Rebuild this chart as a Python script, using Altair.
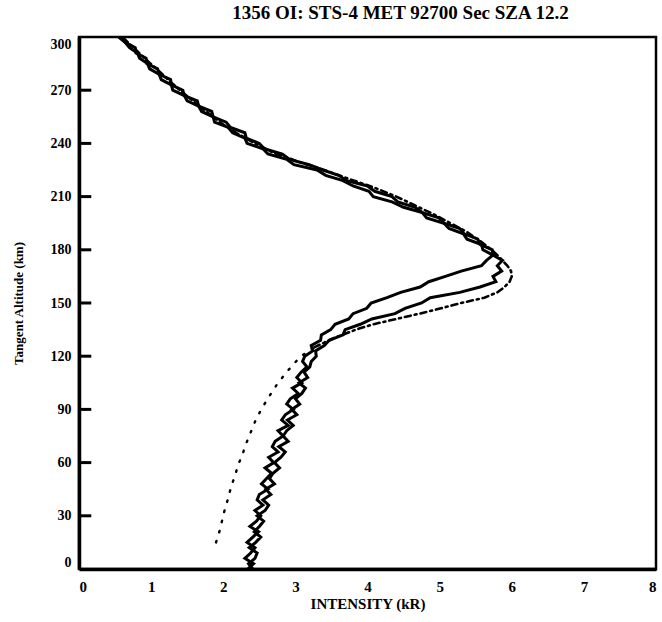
import altair as alt
import pandas as pd

# Tangent altitude grid (km) for the two measured limb profiles
altitude_km = list(range(0, 301, 3))

# Measured 1356 OI intensity (kR), two profiles
profile_a = [
    2.34, 2.42, 2.30, 2.38, 2.44, 2.33, 2.41, 2.49, 2.37, 2.46,
    2.52, 2.44, 2.55, 2.47, 2.50, 2.62, 2.53, 2.60, 2.67, 2.58,
    2.70, 2.63, 2.76, 2.68, 2.72, 2.83, 2.76, 2.90, 2.81, 2.86,
    2.97, 2.88, 2.93, 3.04, 2.96, 3.09, 3.02, 3.08, 3.16, 3.10,
    3.13, 3.24, 3.22, 3.35, 3.36, 3.49, 3.55, 3.74, 3.80, 3.99,
    4.05, 4.27, 4.46, 4.73, 4.85, 5.08, 5.30, 5.58, 5.65, 5.74,
    5.60, 5.58, 5.38, 5.33, 5.13, 5.06, 4.82, 4.76, 4.50, 4.34,
    4.08, 4.02, 3.80, 3.66, 3.42, 3.30, 2.98, 2.88, 2.62, 2.55,
    2.33, 2.30, 2.13, 2.07, 1.88, 1.86, 1.70, 1.66, 1.50, 1.46,
    1.30, 1.28, 1.14, 1.11, 0.98, 0.95, 0.84, 0.81, 0.70, 0.64,
    0.55,
]
profile_b = [
    2.41, 2.35, 2.44, 2.47, 2.36, 2.45, 2.52, 2.43, 2.50, 2.56,
    2.47, 2.58, 2.63, 2.55, 2.66, 2.59, 2.71, 2.64, 2.69, 2.78,
    2.71, 2.80, 2.86, 2.77, 2.90, 2.83, 2.88, 2.97, 2.89, 3.02,
    2.95, 3.06, 3.00, 3.09, 3.14, 3.05, 3.17, 3.12, 3.20, 3.22,
    3.29, 3.28, 3.40, 3.47, 3.66, 3.69, 3.90, 4.06, 4.38, 4.52,
    4.75, 4.87, 5.28, 5.56, 5.78, 5.74, 5.86, 5.80, 5.87, 5.74,
    5.73, 5.56, 5.53, 5.34, 5.28, 5.06, 4.99, 4.76, 4.66, 4.42,
    4.34, 4.10, 4.00, 3.71, 3.60, 3.38, 3.19, 2.92, 2.82, 2.57,
    2.50, 2.32, 2.30, 2.10, 2.04, 1.86, 1.84, 1.66, 1.64, 1.46,
    1.44, 1.28, 1.27, 1.11, 1.09, 0.94, 0.93, 0.79, 0.78, 0.64,
    0.58,
]

# Model profile
model_alt = [15, 20, 25, 30, 35, 40, 45, 50, 55, 60, 65, 70, 75, 80, 85, 90,
             95, 100, 105, 110, 115, 120, 125, 130, 135, 138, 141, 144, 147,
             150, 153, 156, 159, 162, 165, 168, 171, 174, 177, 180, 185, 190,
             195, 200, 205, 210, 215, 220, 225, 230, 235, 240, 245, 250, 255,
             260, 265, 270, 275, 280, 285, 290, 295, 300]
model_int = [1.90, 1.94, 1.97, 2.00, 2.03, 2.07, 2.10, 2.14, 2.18, 2.22, 2.27,
             2.31, 2.36, 2.41, 2.46, 2.53, 2.60, 2.68, 2.76, 2.86, 2.96, 3.08,
             3.26, 3.52, 3.84, 4.08, 4.40, 4.72, 5.02, 5.30, 5.62, 5.80, 5.90,
             5.97, 6.00, 5.99, 5.94, 5.87, 5.80, 5.72, 5.56, 5.38, 5.15, 4.92,
             4.66, 4.40, 4.10, 3.74, 3.40, 3.02, 2.68, 2.44, 2.22, 2.02, 1.86,
             1.70, 1.55, 1.40, 1.26, 1.13, 0.99, 0.86, 0.73, 0.60]

y_ticks = [0, 30, 60, 90, 120, 150, 180, 210, 240, 270, 300]
x_ticks = [0, 1, 2, 3, 4, 5, 6, 7, 8]

FONT = "Liberation Serif"

meas = pd.DataFrame({
    "alt": altitude_km * 2,
    "inten": profile_a + profile_b,
    "series": ["A"] * len(altitude_km) + ["B"] * len(altitude_km),
    "idx": list(range(len(altitude_km))) * 2,
})
model = pd.DataFrame({"alt": model_alt, "inten": model_int,
                      "idx": list(range(len(model_alt)))})
split = model_alt.index(125)
model_low = model.iloc[: split + 1]
model_high = model.iloc[split:]

tick_df = pd.DataFrame({"tick_alt": [float(v) for v in y_ticks[1:-1]]})

x_scale = alt.Scale(domain=[0, 8], nice=False, zero=False)
y_scale = alt.Scale(domain=[0, 300], nice=False, zero=False)

x_enc = alt.X("inten:Q", scale=x_scale, axis=alt.Axis(
    values=x_ticks, format="d", title="INTENSITY (kR)", ticks=False, grid=False,
    domainWidth=3.5, domainColor="black", labelPadding=10,
    labelFont=FONT, labelFontSize=15, labelFontWeight="bold", labelColor="black",
    titleFont=FONT, titleFontSize=15, titleFontWeight="bold", titleColor="black",
    titlePadding=2))
y_enc = alt.Y("alt:Q", scale=y_scale, axis=alt.Axis(
    values=y_ticks, format="d", title="Tangent Altitude (km)", ticks=False, grid=False,
    domainWidth=3.5, domainColor="black", labelPadding=8, labelFlush=True,
    labelFont=FONT, labelFontSize=14, labelFontWeight="bold", labelColor="black",
    titleFont=FONT, titleFontSize=13, titleFontWeight="bold", titleColor="black",
    titleX=-61, titleY=266, titleAlign="center", titleBaseline="middle"))

measured = alt.Chart(meas).mark_line(color="black", strokeWidth=3, clip=True).encode(
    x=x_enc, y=y_enc, detail="series:N", order="idx:Q")

model_dots = alt.Chart(model_low).mark_line(
    color="black", strokeWidth=2.4, strokeDash=[1.5, 9], strokeCap="round", clip=True
).encode(x="inten:Q", y="alt:Q", order="idx:Q")

model_dashdot = alt.Chart(model_high).mark_line(
    color="black", strokeWidth=2.6, strokeDash=[6, 4, 2, 4], strokeCap="round", clip=True
).encode(x="inten:Q", y="alt:Q", order="idx:Q")

# short tick marks pointing inward from the altitude axis
inner_ticks = alt.Chart(tick_df).mark_rule(
    color="#000000", strokeWidth=3, strokeCap="butt", opacity=1
).encode(
    y=alt.Y("tick_alt:Q", scale=y_scale),
    x=alt.datum(0.0, scale=x_scale),
    x2=alt.datum(0.17),
)

chart = alt.layer(measured, model_dots, model_dashdot, inner_ticks).properties(
    width=577, height=532,
    padding={"left": 79, "top": 37, "right": 6, "bottom": 53},
    autosize=alt.AutoSizeParams(type="none"),
    title=alt.TitleParams(
        "1356 OI: STS-4 MET 92700 Sec SZA 12.2", font=FONT, fontSize=19,
        fontWeight="bold", color="black", anchor="middle", dx=33, offset=14),
    background="white",
).configure_view(stroke="black", strokeWidth=2.5)

chart.save("out.html", embed_options={"renderer": "svg", "actions": False})
